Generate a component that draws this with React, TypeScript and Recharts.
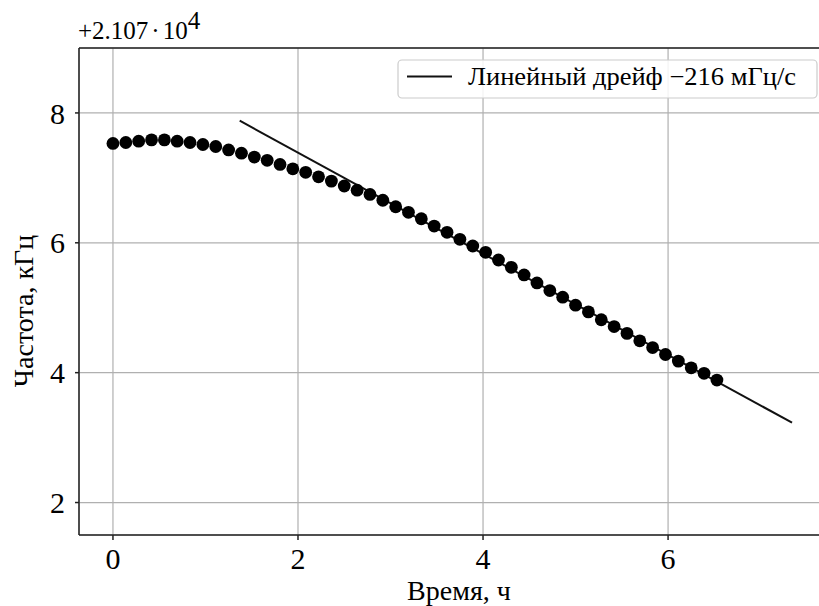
import React from 'react';
import { ScatterChart, Scatter, XAxis, YAxis, CartesianGrid, ReferenceLine, Customized } from 'recharts';

const timesH = [
  0, 0.139, 0.278, 0.417, 0.556, 0.694, 0.833, 0.972, 1.111, 1.25,
  1.389, 1.528, 1.667, 1.806, 1.944, 2.083, 2.222, 2.361, 2.5, 2.639,
  2.778, 2.917, 3.056, 3.194, 3.333, 3.472, 3.611, 3.75, 3.889, 4.028,
  4.167, 4.306, 4.444, 4.583, 4.722, 4.861, 5.0, 5.139, 5.278, 5.417,
  5.556, 5.694, 5.833, 5.972, 6.111, 6.25, 6.389, 6.528,
];

const freqKHz = [
  7.53, 7.545, 7.565, 7.585, 7.585, 7.565, 7.545, 7.514, 7.483, 7.43,
  7.38, 7.32, 7.27, 7.207, 7.14, 7.085, 7.016, 6.95, 6.875, 6.81,
  6.745, 6.655, 6.555, 6.469, 6.37, 6.258, 6.161, 6.054, 5.951, 5.854,
  5.735, 5.623, 5.505, 5.382, 5.265, 5.162, 5.039, 4.936, 4.815, 4.71,
  4.605, 4.49, 4.387, 4.28, 4.178, 4.075, 3.99, 3.886,
];

const driftTimes = [1.37, 7.34];
const driftValues = [7.88, 3.23];

const xTicks = [0, 2, 4, 6];
const yTicks = [2, 4, 6, 8];

const pointData = timesH.map((t, i) => ({ x: t, y: freqKHz[i] }));
const lineData = driftTimes.map((t, i) => ({ x: t, y: driftValues[i] }));

const FONT = "'Liberation Serif', 'Times New Roman', serif";

const Dot = (props: any) => <circle cx={props.cx} cy={props.cy} r={6.4} fill="#000" />;
const NoDot = () => <g />;

const Overlay = () => (
  <g fontFamily={FONT}>
    <text x={78} y={39} fontSize={25} fill="#000" fontFamily={FONT}>
      +2.107<tspan dx={3}>·</tspan><tspan dx={3}>10</tspan>
      <tspan fontSize={25} dy={-10}>4</tspan>
    </text>
    <text
      x={33}
      y={311}
      fontSize={28}
      fill="#000"
      fontFamily={FONT}
      textAnchor="middle"
      transform="rotate(-90, 33, 311)"
    >
      Частота, кГц
    </text>
    <text x={459} y={600} fontSize={28} fill="#000" fontFamily={FONT} textAnchor="middle">
      Время, ч
    </text>
    <rect x={398} y={60} width={419} height={38} rx={4} ry={4} fill="#fff" fillOpacity={0.85} stroke="#cccccc" strokeWidth={1.2} />
    <line x1={407} y1={76.5} x2={452} y2={76.5} stroke="#111" strokeWidth={2} />
    <text x={468} y={84.5} fontSize={25} fill="#000" fontFamily={FONT} textLength={328} lengthAdjust="spacingAndGlyphs">
      Линейный дрейф −216 мГц/с
    </text>
  </g>
);

export default function App() {
  return (
    <div style={{ position: 'absolute', left: 0, top: 0, width: 819, height: 606, overflow: 'hidden', background: '#fff', fontFamily: FONT }}>
      <ScatterChart width={830} height={606} margin={{ top: 48, right: 4, bottom: 41, left: 19 }} style={{ fontFamily: FONT }}>
        <CartesianGrid stroke="#b0b0b0" strokeWidth={1.2} />
        <XAxis
          type="number"
          dataKey="x"
          domain={[-0.367, 7.707]}
          ticks={xTicks}
          allowDataOverflow
          height={30}
          tickSize={5}
          tickMargin={8}
          axisLine={{ stroke: '#222', strokeWidth: 1.5 }}
          tickLine={{ stroke: '#222', strokeWidth: 1.5 }}
          tick={{ fill: '#000', fontSize: 30, fontFamily: FONT }}
        />
        <YAxis
          type="number"
          dataKey="y"
          domain={[1.5, 9.0]}
          ticks={yTicks}
          allowDataOverflow
          width={60}
          tickSize={4}
          tickMargin={10}
          axisLine={{ stroke: '#222', strokeWidth: 1.5 }}
          tickLine={{ stroke: '#222', strokeWidth: 1.5 }}
          tick={{ fill: '#000', fontSize: 30, fontFamily: FONT }}
        />
        <ReferenceLine y={9.0} stroke="#222" strokeWidth={1.5} ifOverflow="extendDomain" />
        <Scatter
          data={lineData}
          line={{ stroke: '#111', strokeWidth: 2 }}
          lineType="joint"
          shape={NoDot}
          isAnimationActive={false}
        />
        <Scatter data={pointData} shape={Dot} isAnimationActive={false} />
        <Customized component={Overlay} />
      </ScatterChart>
    </div>
  );
}
